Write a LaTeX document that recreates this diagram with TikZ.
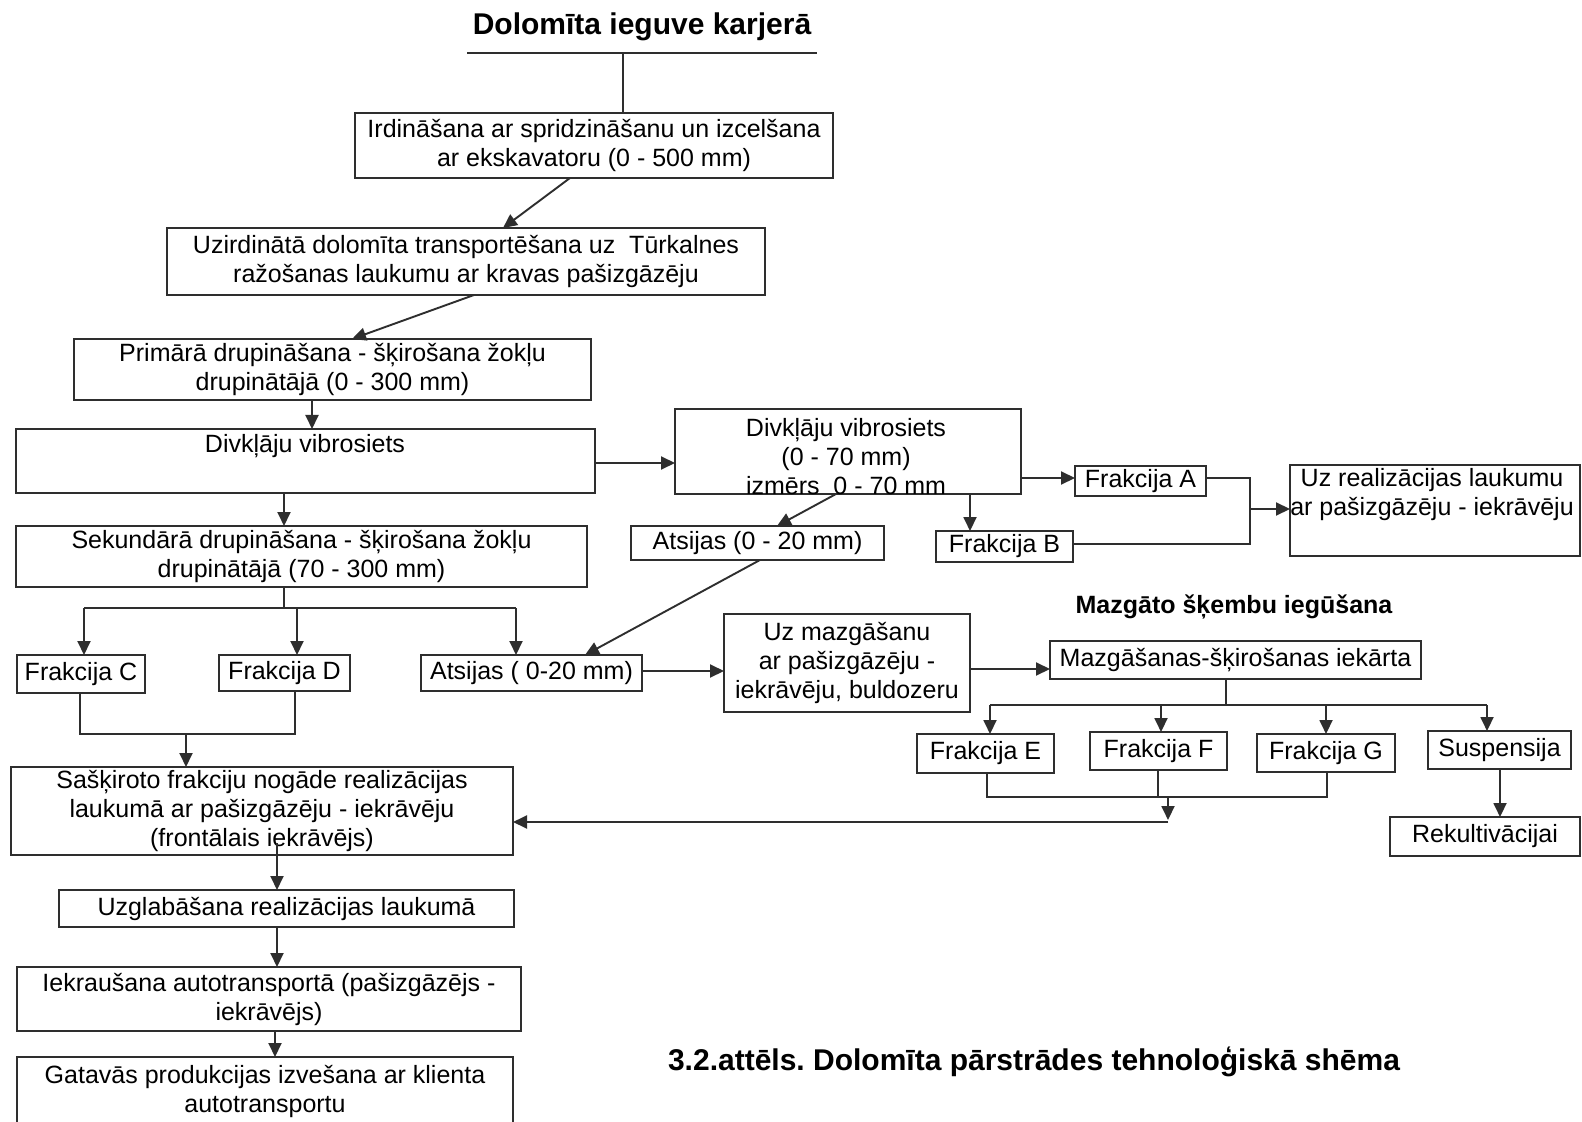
\documentclass[tikz,border=0pt]{standalone}
\usepackage{fontspec}
\setmainfont{Liberation Sans}
\usetikzlibrary{arrows.meta,calc}
\frenchspacing
\definecolor{lc}{gray}{0.18}
\newcommand{\fsn}{\fontsize{12.5}{14.5}\selectfont}
\newcommand{\fsbig}{\fontsize{15}{17}\selectfont\bfseries}
\newcommand{\fsmid}{\fontsize{12.5}{14.2}\selectfont\bfseries}
\begin{document}
\begin{tikzpicture}[x=0.5pt,y=-0.5pt,
  box/.style={draw=lc, line width=1.05pt, inner sep=0pt, outer sep=0pt, align=center, font=\fsn},
  txt/.style={inner sep=0pt, outer sep=0pt, align=center, font=\fsn},
  ln/.style={draw=lc, line width=0.95pt},
  arr/.style={draw=lc, fill=lc, line width=0.95pt, -{Triangle[length=7pt,width=6.5pt]}}]
\useasboundingbox (0,0) rectangle (1582,1122);
\fill[white] (0,0) rectangle (1582,1122);

% titles
\node[txt, font=\fsbig] (T) at (642,27) {Dolomīta ieguve karjerā};
\coordinate (ul) at (642,53);
\node[txt, font=\fsmid] (MT) at (1234,607) {Mazgāto šķembu iegūšana};
\node[txt, font=\fsbig] (CAP) at (1034,1062) {3.2.attēls. Dolomīta pārstrādes tehnoloģiskā shēma};

% left column
\node[box, minimum width=239pt, minimum height=32.5pt] (B1) at (594,145.5) {Irdināšana ar spridzināšanu un izcelšana\\ar ekskavatoru (0 - 500 mm)};
\node[box, minimum width=299pt, minimum height=33.5pt] (B2) at (466,261.5) {Uzirdinātā dolomīta transportēšana uz\ \ Tūrkalnes\\ražošanas laukumu ar kravas pašizgāzēju};
\node[box, minimum width=258.5pt, minimum height=30.5pt] (B3) at (332.5,369.5) {Primārā drupināšana - šķirošana žokļu\\drupinātājā (0 - 300 mm)};
\node[box, minimum width=289.5pt, minimum height=32pt] (B4) at (305.5,461) {};
\node[txt] (B4t) at (305,446) {Divkļāju vibrosiets};
\node[box, minimum width=285.5pt, minimum height=30.5pt] (B5) at (301.5,556.5) {Sekundārā drupināšana - šķirošana žokļu\\drupinātājā (70 - 300 mm)};
\node[box, minimum width=64pt, minimum height=19pt] (FC) at (81,674) {Frakcija C};
\node[box, minimum width=65.5pt, minimum height=18pt] (FD) at (284.5,673) {Frakcija D};
\node[box, minimum width=110.5pt, minimum height=18pt] (AT2) at (531.5,673) {Atsijas ( 0-20 mm)};
\node[box, minimum width=251pt, minimum height=44pt] (B6) at (262,811) {Sašķiroto frakciju nogāde realizācijas\\laukumā ar pašizgāzēju - iekrāvēju\\(frontālais iekrāvējs)};
\node[box, minimum width=227.5pt, minimum height=18.5pt] (B7) at (286.5,908.5) {Uzglabāšana realizācijas laukumā};
\node[box, minimum width=252pt, minimum height=32pt] (B8) at (269,999) {Iekraušana autotransportā (pašizgāzējs -\\iekrāvējs)};
\node[box, minimum width=248pt, minimum height=34pt] (B9) at (265,1091) {Gatavās produkcijas izvešana ar klienta\\autotransportu};

% right part
\node[box, minimum width=173pt, minimum height=42.5pt] (B10) at (848,451.5) {};
\node[txt] (B10t) at (846,457) {Divkļāju vibrosiets\\(0 - 70 mm)\\izmērs\ \ 0 - 70 mm};
\node[box, minimum width=65.5pt, minimum height=15pt] (FA) at (1140.5,481) {Frakcija A};
\node[box, minimum width=68.5pt, minimum height=15.5pt] (FB) at (1004.5,546.5) {Frakcija B};
\node[box, minimum width=145pt, minimum height=45.5pt] (UR) at (1435,510.5) {};
\node[txt] (URt) at (1432,495) {Uz realizācijas laukumu\\ar pašizgāzēju - iekrāvēju};
\node[box, minimum width=126.5pt, minimum height=17pt] (AT1) at (757.5,543) {Atsijas (0 - 20 mm)};
\node[box, minimum width=123pt, minimum height=49pt] (UM) at (847,663) {Uz mazgāšanu\\ar pašizgāzēju -\\iekrāvēju, buldozeru};
\node[box, minimum width=185.5pt, minimum height=19pt] (MS) at (1235.5,660) {Mazgāšanas-šķirošanas iekārta};
\node[box, minimum width=68.5pt, minimum height=19.5pt] (FE) at (985.5,753.5) {Frakcija E};
\node[box, minimum width=68.5pt, minimum height=19pt] (FF) at (1158.5,751) {Frakcija F};
\node[box, minimum width=69pt, minimum height=19pt] (FG) at (1326,753) {Frakcija G};
\node[box, minimum width=71.5pt, minimum height=19pt] (SU) at (1499.5,750) {Suspensija};
\node[box, minimum width=95pt, minimum height=19.5pt] (RK) at (1485,836.5) {Rekultivācijai};

% junction coordinates
\coordinate (s5) at (284,608);
\coordinate (mcd) at (186,734);
\coordinate (jab) at (1250,509);
\coordinate (sms) at (1226,705);
\coordinate (mefg) at (1168,797);
\coordinate (ret) at (1168,822);

% connectors: top
\draw[ln] (467,0 |- ul) -- (817,0 |- ul);
\draw[ln] (623,0 |- ul) -- (623,0 |- B1.north);
\draw[arr] (570,0 |- B1.south) -- (503,0 |- B2.north);
\draw[arr] (474,0 |- B2.south) -- (352,0 |- B3.north);
\draw[arr] (312,0 |- B3.south) -- (312,0 |- B4.north);
\draw[arr] (284,0 |- B4.south) -- (284,0 |- B5.north);
\draw[arr] (B4.east |- 0,463) -- (B10.west |- 0,463);

% B5 split
\draw[ln] (284,0 |- B5.south) -- (s5);
\draw[ln] (84,0 |- s5) -- (516,0 |- s5);
\draw[arr] (84,0 |- s5) -- (84,0 |- FC.north);
\draw[arr] (297,0 |- s5) -- (297,0 |- FD.north);
\draw[arr] (516,0 |- s5) -- (516,0 |- AT2.north);

% C/D merge
\draw[ln] (80,0 |- FC.south) -- (80,0 |- mcd) -- (295,0 |- mcd) -- (295,0 |- FD.south);
\draw[arr] (mcd) -- (mcd |- B6.north);

% bottom chain
\draw[arr] ($(277,0 |- B6.south)+(0,-12)$) -- (277,0 |- B7.north);
\draw[arr] (277,0 |- B7.south) -- (277,0 |- B8.north);
\draw[arr] (275,0 |- B8.south) -- (275,0 |- B9.north);

% B10 outputs
\draw[arr] (B10.east |- 0,478) -- (FA.west |- 0,478);
\draw[arr] (970,0 |- B10.south) -- (970,0 |- FB.north);
\draw[ln] (FA.east |- 0,478) -- (jab |- 0,478) -- (jab |- 0,544) -- (FB.east |- 0,544);
\draw[arr] (jab) -- (UR.west |- jab);
\draw[arr] (836,0 |- B10.south) -- (777,0 |- AT1.north);
\draw[arr] (760,0 |- AT1.south) -- (585,0 |- AT2.north);

% washing
\draw[arr] (AT2.east |- 0,671) -- (UM.west |- 0,671);
\draw[arr] (UM.east |- 0,669) -- (MS.west |- 0,669);
\draw[ln] (sms |- MS.south) -- (sms);
\draw[ln] (990,0 |- sms) -- (1487,0 |- sms);
\draw[arr] (990,0 |- sms) -- (990,0 |- FE.north);
\draw[arr] (1161,0 |- sms) -- (1161,0 |- FF.north);
\draw[arr] (1326,0 |- sms) -- (1326,0 |- FG.north);
\draw[arr] (1487,0 |- sms) -- (1487,0 |- SU.north);

% E/F/G merge
\draw[ln] (987,0 |- FE.south) -- (987,0 |- mefg) -- (1327,0 |- mefg) -- (1327,0 |- FG.south);
\draw[ln] (1158,0 |- FF.south) -- (1158,0 |- mefg);
\draw[arr] (mefg) -- (1168,820);
\draw[arr] (ret) -- (B6.east |- ret);
\draw[arr] (1500,0 |- SU.south) -- (1500,0 |- RK.north);
\end{tikzpicture}
\end{document}
